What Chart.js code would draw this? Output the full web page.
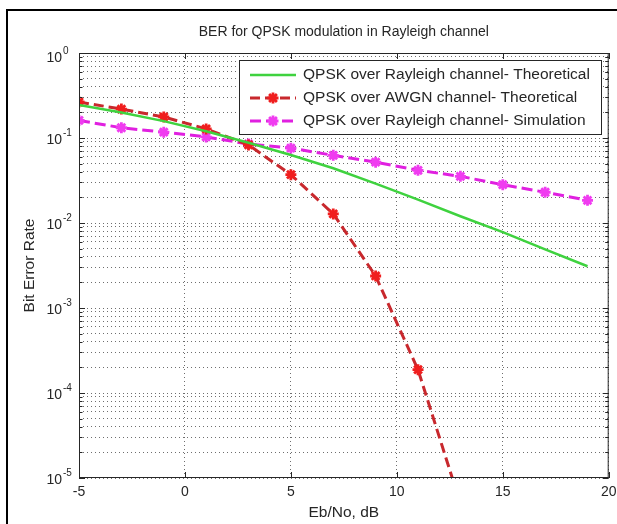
<!DOCTYPE html>
<html>
<head>
<meta charset="utf-8">
<title>BER for QPSK modulation in Rayleigh channel</title>
<script src="https://cdn.jsdelivr.net/npm/chart.js@4.4.0/dist/chart.umd.min.js"></script>
<style>
  html, body { margin: 0; padding: 0; background: #fff; }
  #wrap { position: relative; width: 617px; height: 524px; overflow: hidden; }
  #ber { position: absolute; left: 0; top: 0; }
  /* cell border around the figure */
  #frame { position: absolute; left: 6px; top: 9px; right: -10px; bottom: -10px;
           border-top: 2px solid #000; border-left: 2px solid #000; pointer-events: none; }
</style>
</head>
<body>
<div id="wrap">
  <canvas id="ber" width="617" height="524"></canvas>
  <div id="frame"></div>
</div>
<script>
  // Eb/No points (dB) and BER values
  const ebNo = [-5, -3, -1, 1, 3, 5, 7, 9, 11, 13, 15, 17, 19];
  const berRayleighTheory = [0.245, 0.2, 0.158, 0.12, 0.088, 0.063, 0.044, 0.029, 0.0188, 0.012, 0.0078, 0.0049, 0.0031];
  const berAwgnTheory = [0.265, 0.219, 0.177, 0.128, 0.083, 0.037, 0.0128, 0.00238, 0.000188, 0.000005];
  const berRayleighSim = [0.161, 0.132, 0.117, 0.103, 0.085, 0.076, 0.0625, 0.052, 0.0417, 0.0354, 0.0282, 0.023, 0.0185];

  const seriesLabels = [
    'QPSK over Rayleigh channel- Theoretical',
    'QPSK over AWGN channel- Theoretical',
    'QPSK over Rayleigh channel- Simulation'
  ];
  const titleText = 'BER for QPSK modulation in Rayleigh channel';
  const xLabel = 'Eb/No, dB';
  const yLabel = 'Bit Error Rate';
  const xTickValues = [-5, 0, 5, 10, 15, 20];
  const yDecades = [0, -1, -2, -3, -4, -5];

  const FONT = '"Liberation Sans", Arial, sans-serif';
  const INK = '#262626';

  function pts(ys) { return ys.map((y, i) => ({ x: ebNo[i], y })); }

  // log ticks: every 1..9 x 10^d, decades flagged major
  function logTicks() {
    const out = [];
    for (let d = -5; d < 0; d++)
      for (let m = 1; m <= 9; m++) out.push({ value: m * Math.pow(10, d), major: m === 1 });
    out.push({ value: 1, major: true });
    return out;
  }

  function drawStar(ctx, cx, cy, r) {
    ctx.beginPath();
    for (let k = 0; k < 4; k++) {
      const a = k * Math.PI / 4;
      ctx.moveTo(cx - r * Math.cos(a), cy - r * Math.sin(a));
      ctx.lineTo(cx + r * Math.cos(a), cy + r * Math.sin(a));
    }
    ctx.stroke();
  }

  // axes box, inward ticks, labels and the in-plot legend
  const matlabAxes = {
    id: 'matlabAxes',
    afterDatasetsDraw(chart) {
      const { ctx, chartArea: a, scales: { x, y } } = chart;
      ctx.save();
      ctx.strokeStyle = INK;
      ctx.lineWidth = 1;
      ctx.setLineDash([]);
      ctx.strokeRect(a.left + 0.5, a.top + 0.5, a.right - a.left - 1, a.bottom - a.top - 1);
      ctx.beginPath();
      xTickValues.forEach(v => {
        const px = Math.round(x.getPixelForValue(v)) + 0.5;
        ctx.moveTo(px, a.bottom); ctx.lineTo(px, a.bottom - 6);
        ctx.moveTo(px, a.top); ctx.lineTo(px, a.top + 6);
      });
      y.ticks.forEach(t => {
        const py = Math.round(y.getPixelForValue(t.value)) + 0.5;
        const len = t.major ? 6 : 3.5;
        ctx.moveTo(a.left, py); ctx.lineTo(a.left + len, py);
        ctx.moveTo(a.right, py); ctx.lineTo(a.right - len, py);
      });
      ctx.stroke();
      ctx.restore();
    },
    afterDraw(chart) {
      const { ctx, chartArea: a, scales: { x, y } } = chart;
      const midX = (a.left + a.right) / 2;
      ctx.save();
      ctx.fillStyle = INK;
      ctx.textBaseline = 'middle';

      ctx.font = `14px ${FONT}`;
      ctx.textAlign = 'center';
      ctx.fillText(titleText, midX, 32);

      xTickValues.forEach(v => ctx.fillText(String(v), x.getPixelForValue(v), a.bottom + 14));

      yDecades.forEach(d => {
        const py = y.getPixelForValue(Math.pow(10, d)) + (d === 0 ? 5 : 2);
        ctx.font = `14px ${FONT}`;
        ctx.textAlign = 'right';
        ctx.fillText('10', a.left - 17, py);
        ctx.font = `10px ${FONT}`;
        ctx.textAlign = 'left';
        ctx.fillText(String(d), a.left - 16, py - 7);
      });

      ctx.font = `15.5px ${FONT}`;
      ctx.textAlign = 'center';
      ctx.fillText(xLabel, midX, 513);
      ctx.save();
      ctx.translate(30, (a.top + a.bottom) / 2);
      ctx.rotate(-Math.PI / 2);
      ctx.fillText(yLabel, 0, 0);
      ctx.restore();

      // legend box
      const box = { l: 239, t: 60, r: 602, b: 135 };
      ctx.fillStyle = '#fff';
      ctx.fillRect(box.l, box.t, box.r - box.l, box.b - box.t);
      ctx.strokeStyle = INK;
      ctx.lineWidth = 1;
      ctx.strokeRect(box.l + 0.5, box.t + 0.5, box.r - box.l - 1, box.b - box.t - 1);

      chart.data.datasets.forEach((ds, i) => {
        const ry = 75 + i * 23;
        ctx.save();
        ctx.strokeStyle = ds.borderColor;
        ctx.lineWidth = ds.borderWidth;
        ctx.setLineDash(ds.borderDash || []);
        ctx.beginPath();
        ctx.moveTo(250, ry); ctx.lineTo(296, ry);
        ctx.stroke();
        if (ds.pointRadius > 0) {
          ctx.setLineDash([]);
          ctx.strokeStyle = ds.pointBorderColor;
          ctx.lineWidth = ds.pointBorderWidth;
          drawStar(ctx, 273, ry, ds.pointRadius);
        }
        ctx.restore();
        ctx.fillStyle = INK;
        ctx.font = `15.5px ${FONT}`;
        ctx.textAlign = 'left';
        ctx.fillText(ds.label, 303, ry);
      });
      ctx.restore();
    }
  };

  new Chart(document.getElementById('ber'), {
    type: 'line',
    data: {
      datasets: [
        {
          label: seriesLabels[0], data: pts(berRayleighTheory),
          borderColor: '#3fd23f', borderWidth: 2.5, pointRadius: 0, tension: 0
        },
        {
          label: seriesLabels[1], data: pts(berAwgnTheory),
          borderColor: '#c8282d', borderWidth: 3, borderDash: [10, 5],
          pointStyle: 'star', pointRadius: 5.5, pointBorderWidth: 2.8,
          pointBorderColor: '#f01e1e', pointBackgroundColor: '#f01e1e'
        },
        {
          label: seriesLabels[2], data: pts(berRayleighSim),
          borderColor: '#e020e0', borderWidth: 3, borderDash: [11, 5],
          pointStyle: 'star', pointRadius: 5.5, pointBorderWidth: 2.8,
          pointBorderColor: '#f03cf0', pointBackgroundColor: '#f03cf0'
        }
      ]
    },
    options: {
      responsive: false,
      animation: false,
      layout: { padding: { left: 79, top: 53, right: 8, bottom: 46 } },
      plugins: { legend: { display: false }, title: { display: false }, tooltip: { enabled: false } },
      scales: {
        x: {
          type: 'linear', min: -5, max: 20,
          afterBuildTicks: s => { s.ticks = xTickValues.map(v => ({ value: v })); },
          afterFit: s => { s.height = 0; },
          ticks: { display: false },
          grid: { color: '#6e6e6e', lineWidth: 1, drawTicks: false },
          border: { display: false, dash: [1, 3] }
        },
        y: {
          type: 'logarithmic', min: 1e-5, max: 1,
          afterBuildTicks: s => { s.ticks = logTicks(); },
          afterFit: s => { s.width = 0; },
          ticks: { display: false },
          grid: { color: '#6e6e6e', lineWidth: 1, drawTicks: false },
          border: { display: false, dash: [1, 3] }
        }
      }
    },
    plugins: [matlabAxes]
  });
</script>
</body>
</html>
